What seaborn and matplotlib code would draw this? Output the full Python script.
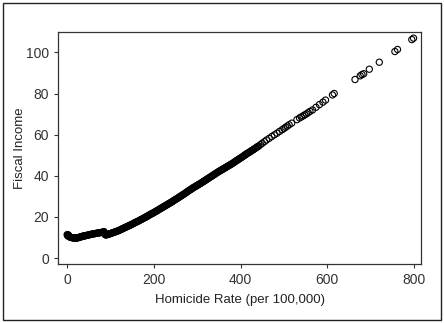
import matplotlib
matplotlib.use("Agg")
import matplotlib.pyplot as plt
import seaborn as sns
import pandas as pd
from matplotlib.patches import Rectangle

# values
homicide = [0, 1, 2, 3, 4, 7, 10, 13, 16, 19, 22, 25, 28, 31, 34, 37, 40, 44, 48, 52,
            56, 60, 64, 68, 72, 76, 80, 84, 86, 87, 88, 90, 94, 98, 102, 106, 110, 114,
            118, 122, 126, 130, 134, 138, 142, 146, 150, 154, 158, 162, 166, 170, 174,
            178, 182, 186, 190, 194, 198, 202, 206, 210, 214, 218, 222, 226, 230, 234,
            238, 242, 246, 250, 254, 258, 262, 266, 270, 274, 278, 282, 286, 290, 294,
            298, 302, 306, 310, 314, 318, 322, 326, 330, 334, 338, 342, 346, 350, 354,
            358, 362, 366, 370, 374, 378, 382, 386, 390, 394, 398, 402, 406, 410, 414,
            418, 422, 426, 430, 434, 438, 442, 446, 450, 455, 460, 466, 472, 478, 484,
            490, 496, 500, 504, 508, 512, 518, 530, 536, 540, 544, 548, 552, 556, 560,
            566, 574, 582, 590, 596, 612, 616, 664, 676, 680, 684, 697, 720, 756, 762,
            795, 799]
fiscal = [11.4, 11.0, 10.8, 11.2, 10.5, 10.2, 10.0, 9.9, 9.8, 9.7, 9.8, 9.9, 10.1, 10.3,
          10.5, 10.7, 10.8, 11.0, 11.2, 11.4, 11.6, 11.8, 11.9, 12.1, 12.2, 12.4, 12.5,
          12.7, 12.4, 11.9, 11.4, 11.3, 11.5, 11.8, 12.1, 12.4, 12.7, 13.0, 13.3, 13.7,
          14.1, 14.5, 14.9, 15.3, 15.7, 16.1, 16.5, 17.0, 17.4, 17.8, 18.2, 18.7, 19.1,
          19.6, 20.0, 20.5, 21.0, 21.5, 21.9, 22.4, 22.9, 23.4, 23.9, 24.4, 24.9, 25.4,
          25.9, 26.4, 26.9, 27.4, 28.0, 28.5, 29.0, 29.6, 30.1, 30.7, 31.2, 31.8, 32.4,
          33.0, 33.5, 34.1, 34.6, 35.1, 35.6, 36.1, 36.6, 37.2, 37.7, 38.3, 38.8, 39.4,
          39.9, 40.5, 41.0, 41.6, 42.1, 42.6, 43.1, 43.6, 44.1, 44.6, 45.1, 45.6, 46.1,
          46.7, 47.3, 47.8, 48.4, 48.9, 49.5, 50.1, 50.7, 51.2, 51.7, 52.3, 52.8, 53.4,
          54.0, 54.5, 55.2, 55.8, 56.6, 57.4, 58.2, 59.1, 59.9, 60.7, 61.6, 62.4, 63.0,
          63.6, 64.2, 64.8, 65.6, 67.3, 68.1, 68.6, 69.1, 69.6, 70.1, 70.7, 71.3, 72.0,
          73.3, 74.6, 75.8, 76.8, 79.3, 80.0, 86.8, 88.6, 89.2, 89.6, 91.8, 95.2, 100.4,
          101.4, 106.2, 106.9]

# extra points in the dense, solid-looking stretch of the curve
homicide_dense = [1.5, 5.5, 8.5, 11.5, 14.5, 17.5, 20.5, 23.5, 26.5, 29.5, 32.5, 35.5, 38.5,
                  42, 46, 50, 54, 58, 62, 66, 70, 74, 78, 82, 85, 89, 92,
                  96, 100, 104, 108, 112, 116, 120, 124, 128, 132, 136, 140, 144, 148, 152,
                  156, 160, 164, 168, 172, 176, 180, 184, 188, 192, 196, 200, 204, 208, 212,
                  216, 220, 224, 228, 232, 236, 240, 244, 248, 252, 256, 260, 264, 268, 272,
                  276, 280, 284, 288, 292, 296, 300, 304, 308, 312, 316, 320, 324, 328, 332,
                  336, 340, 344, 348, 352, 356, 360, 364, 368, 372, 376, 380, 384, 388, 392,
                  396, 400, 404, 408, 412, 416, 420, 424, 428, 432, 436, 440]
fiscal_dense = [11.3, 10.4, 10.1, 9.95, 9.85, 9.75, 9.75, 9.85, 10.0, 10.2, 10.4, 10.6, 10.75,
                10.9, 11.1, 11.3, 11.5, 11.7, 11.85, 12.0, 12.15, 12.3, 12.45, 12.6, 12.9,
                11.3, 11.4,
                11.65, 11.95, 12.25, 12.55, 12.85, 13.15, 13.5, 13.9, 14.3, 14.7, 15.1, 15.5,
                15.9, 16.3, 16.75, 17.2, 17.6, 18.0, 18.45, 18.9, 19.35, 19.8, 20.25, 20.75,
                21.25, 21.7, 22.15, 22.65, 23.15, 23.65, 24.15, 24.65, 25.15, 25.65, 26.15,
                26.65, 27.15, 27.7, 28.25, 28.75, 29.3, 29.85, 30.4, 30.95, 31.5, 32.1, 32.7,
                33.25, 33.8, 34.35, 34.85, 35.35, 35.85, 36.35, 36.9, 37.45, 38.0, 38.55,
                39.1, 39.65, 40.2, 40.75, 41.3, 41.85, 42.35, 42.85, 43.35, 43.85, 44.35,
                44.85, 45.35, 45.85, 46.4, 47.0, 47.55, 48.1, 48.65, 49.2, 49.8, 50.4, 50.95,
                51.45, 52.0, 52.55, 53.1, 53.7, 54.25]
x_ticks = [0, 200, 400, 600, 800]
y_ticks = [0, 20, 40, 60, 80, 100]

df = pd.concat([pd.DataFrame({"homicide": homicide, "fiscal": fiscal}),
                pd.DataFrame({"homicide": homicide_dense, "fiscal": fiscal_dense})],
               ignore_index=True)

sns.set_style("ticks")
plt.rcParams["font.family"] = ["Liberation Sans", "DejaVu Sans"]

fig = plt.figure(figsize=(4.44, 3.23), dpi=100)
ax = fig.add_axes([0.131, 0.183, 0.817, 0.718])

sns.scatterplot(data=df, x="homicide", y="fiscal", ax=ax, s=20,
                facecolor="none", edgecolor="black", linewidth=0.8)

ax.set_xlim(-20.7, 816)
ax.set_ylim(-2.8, 109.9)
ax.set_xticks(x_ticks)
ax.set_yticks(y_ticks)
ax.set_xlabel("Homicide Rate (per 100,000)", fontsize=9.5, color="#222222", labelpad=5)
ax.set_ylabel("Fiscal Income", fontsize=9.5, color="#222222")
ax.yaxis.set_label_coords(-0.09, 0.5)
ax.tick_params(labelsize=10, colors="#333333", length=3, width=0.8)
for side in ax.spines.values():
    side.set_visible(True)
    side.set_color("#333333")
    side.set_linewidth(0.9)

fig.patches.append(Rectangle((0.007, 0.009), 0.986, 0.981, transform=fig.transFigure,
                             fill=False, edgecolor="#222222", linewidth=1))

fig.savefig("out.png", dpi=100)
